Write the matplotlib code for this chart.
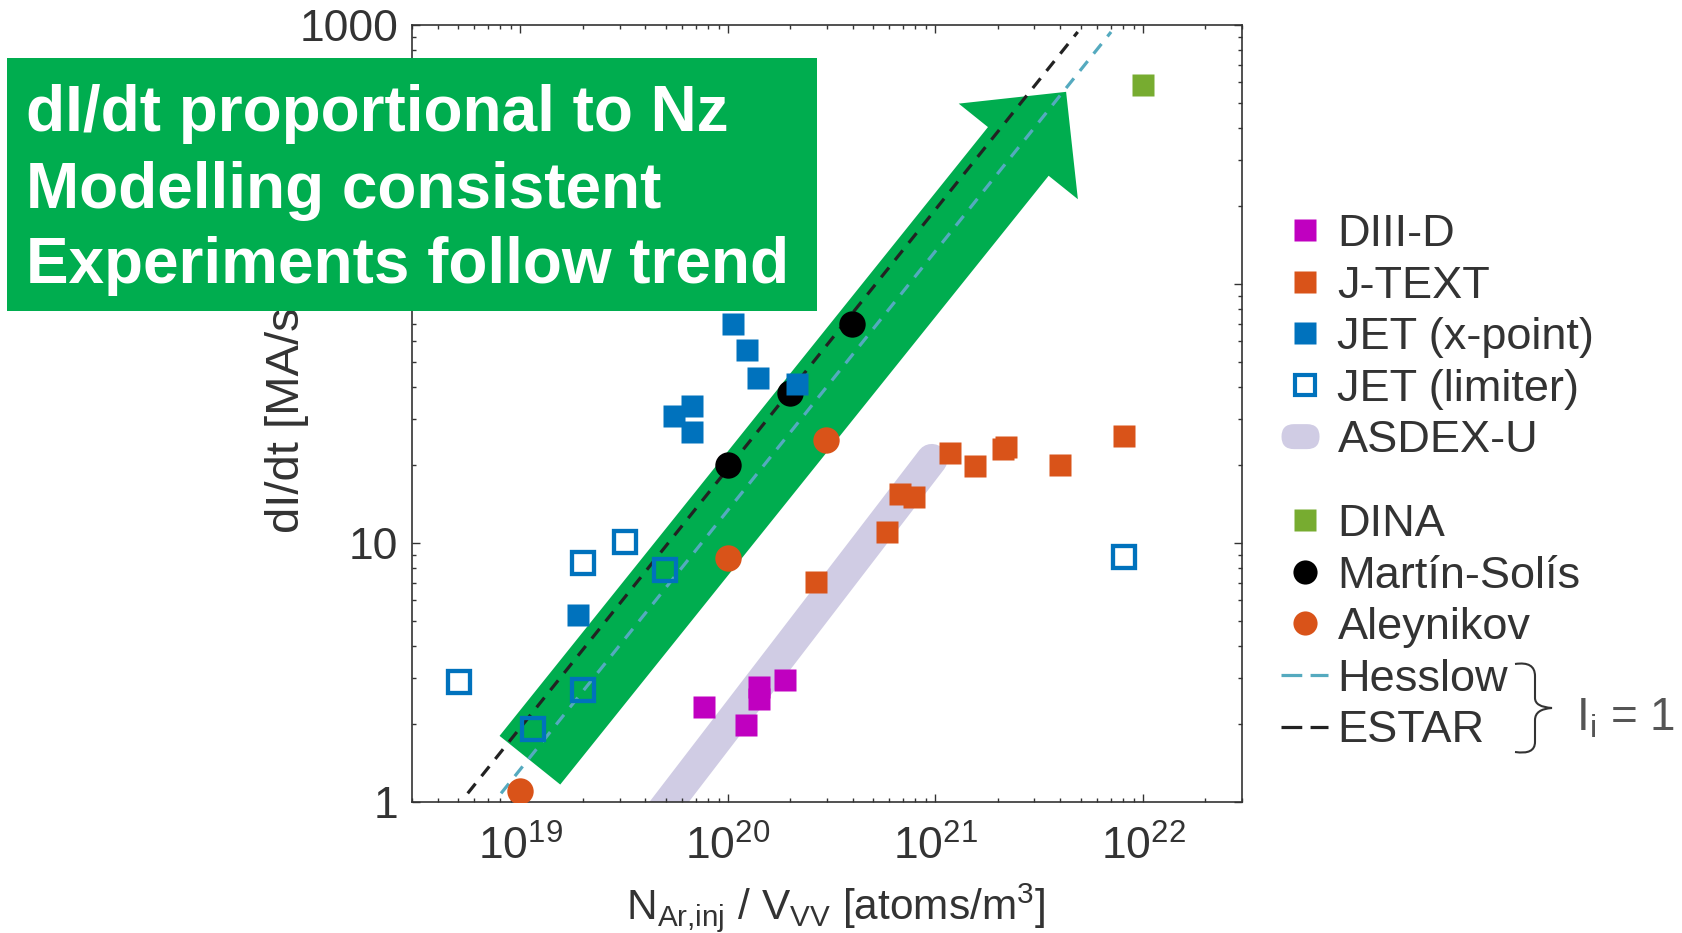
import numpy as np
import matplotlib
matplotlib.use("Agg")
import matplotlib.pyplot as plt
from matplotlib.lines import Line2D
from matplotlib.patches import Rectangle, FancyBboxPatch, PathPatch
from matplotlib.path import Path
from matplotlib.legend_handler import HandlerBase
from matplotlib.ticker import FuncFormatter, NullFormatter, LogLocator

W, H, DPI = 1683, 933, 100

plt.rcParams["font.family"] = ["Liberation Sans", "DejaVu Sans"]
plt.rcParams["mathtext.fontset"] = "custom"
plt.rcParams["mathtext.rm"] = "Liberation Sans"
plt.rcParams["mathtext.it"] = "Liberation Sans:italic"
plt.rcParams["mathtext.bf"] = "Liberation Sans:bold"

# ---- data: injected Ar density [atoms/m^3] vs current quench rate [MA/s] ----
diiid_n = [7.7e19, 1.22e20, 1.41e20, 1.41e20, 1.88e20]
diiid_rate = [2.32, 1.99, 2.50, 2.78, 2.95]

jtext_n = [2.65e20, 5.86e20, 6.76e20, 7.9e20, 1.18e21, 1.55e21, 2.11e21, 2.19e21, 3.96e21, 8.07e21]
jtext_rate = [7.1, 11.0, 15.4, 15.0, 22.2, 19.8, 23.0, 23.5, 20.0, 25.9]

jet_xp_n = [1.9e19, 5.52e19, 6.67e19, 6.67e19, 1.06e20, 1.24e20, 1.40e20, 2.15e20]
jet_xp_rate = [5.27, 30.9, 33.9, 26.9, 70.1, 55.4, 43.4, 41.0]

jet_lim_n = [5.06e18, 1.15e19, 2.0e19, 2.0e19, 3.2e19, 4.97e19, 8.07e21]
jet_lim_rate = [2.91, 1.91, 8.36, 2.70, 10.1, 7.9, 8.86]

asdex_n = [4.3e19, 9.6e20]
asdex_rate = [0.82, 21.0]

dina_n = [1.0e22]
dina_rate = [585.0]

martin_n = [1.0e20, 1.98e20, 3.96e20]
martin_rate = [20.0, 38.1, 70.2]

aleyn_n = [9.9e18, 1.0e20, 2.96e20]
aleyn_rate = [1.10, 8.75, 25.0]

# linear scalings (l_i = 1): dI/dt = coef * N
hesslow_coef = 1.34e-19
estar_coef = 1.94e-19
scaling_rate_range = [1.08, 940.0]

# trend arrow (tail -> tip) in data units
trend_tail = (1.11e19, 1.45)
trend_tip = (4.26e21, 552.0)

# ---- styling ----
C_MAG = "#C000C0"
C_ORG = "#D95319"
C_BLU = "#0072BD"
C_DINA = "#77AC30"
C_LAV = "#D0CCE4"
C_CYAN = "#55AABF"
C_DASHK = "#222222"
C_GREEN = "#00AD4F"
C_TXT = "#333333"

MS_SQ = 16.4
MS_CIR = 19.0
LEG_FS = 32.5


def fpx(x, y):
    """pixel position (from top-left) -> figure fraction"""
    return x / W, 1 - y / H


fig = plt.figure(figsize=(W / DPI, H / DPI), dpi=DPI)
fig.patch.set_facecolor("white")
ax = fig.add_axes([412 / W, 1 - 802 / H, 830 / W, 777 / H])
ax.set_xscale("log")
ax.set_yscale("log")
ax.set_xlim(3e18, 3e22)
ax.set_ylim(1, 1000)

# ASDEX-U band
ax.plot(asdex_n, asdex_rate, color=C_LAV, lw=22.5, solid_capstyle="round", zorder=1.5)

# trend arrow
ax.annotate(
    "", xy=trend_tip, xytext=trend_tail, xycoords="data", textcoords="data",
    arrowprops=dict(
        arrowstyle="simple,head_length=55,head_width=110,tail_width=56",
        mutation_scale=1, shrinkA=0, shrinkB=0, fc=C_GREEN, ec="none", lw=0,
    ),
    zorder=2,
)

# scaling lines
for coef, col in [(estar_coef, C_DASHK), (hesslow_coef, C_CYAN)]:
    rate = np.array(scaling_rate_range)
    ax.plot(rate / coef, rate, color=col, lw=2.3, dashes=(3.9, 3.0), zorder=3)

# measurements and simulations
ax.plot(diiid_n, diiid_rate, ls="none", marker="s", ms=MS_SQ, mfc=C_MAG, mec="none", zorder=4)
ax.plot(jtext_n, jtext_rate, ls="none", marker="s", ms=MS_SQ, mfc=C_ORG, mec="none", zorder=4)
ax.plot(martin_n, martin_rate, ls="none", marker="o", ms=MS_CIR, mfc="black", mec="none", zorder=4)
ax.plot(aleyn_n, aleyn_rate, ls="none", marker="o", ms=MS_CIR, mfc=C_ORG, mec="none", zorder=4)
ax.plot(jet_xp_n, jet_xp_rate, ls="none", marker="s", ms=MS_SQ, mfc=C_BLU, mec="none", zorder=5)
ax.plot(jet_lim_n, jet_lim_rate, ls="none", marker="s", ms=16.0, mfc="none", mec=C_BLU, mew=3.1, zorder=5)
ax.plot(dina_n, dina_rate, ls="none", marker="s", ms=MS_SQ, mfc=C_DINA, mec="none", zorder=5)

# axes styling
for sp in ax.spines.values():
    sp.set_color(C_TXT)
    sp.set_linewidth(1.2)
ax.xaxis.set_major_locator(LogLocator(base=10, numticks=10))
ax.xaxis.set_minor_locator(LogLocator(base=10, subs=np.arange(2, 10), numticks=20))
ax.yaxis.set_minor_locator(LogLocator(base=10, subs=np.arange(2, 10), numticks=20))
ax.yaxis.set_major_formatter(FuncFormatter(lambda v, p: f"{v:g}"))
ax.xaxis.set_minor_formatter(NullFormatter())
ax.yaxis.set_minor_formatter(NullFormatter())
ax.tick_params(which="both", direction="in", top=True, right=True, color=C_TXT,
               labelcolor=C_TXT, width=1.0)
ax.tick_params(which="major", length=5.8, labelsize=32)
ax.tick_params(axis="y", which="major", pad=10)
ax.tick_params(axis="x", which="major", pad=17)
ax.tick_params(which="minor", length=3.2)

ax.set_xlabel(r"N$_{\mathrm{Ar{,}inj}}$ / V$_{\mathrm{VV}}$ [atoms/m$^{3}$]", fontsize=30.5, color=C_TXT)
ax.xaxis.set_label_coords(0.51, -0.102)
ax.set_ylabel("dI/dt [MA/s]", fontsize=34, color=C_TXT)
ax.yaxis.set_label_coords(-0.124, 0.5)


# legend
class HandlerStadium(HandlerBase):
    def create_artists(self, legend, orig_handle, xdescent, ydescent, width, height, fontsize, trans):
        w, h = 27.4, 18.0
        x0 = -xdescent + (width - w) / 2 - 3
        y0 = -ydescent + (height - h) / 2
        p = FancyBboxPatch((x0, y0), w, h, boxstyle=f"round,pad=0,rounding_size={h / 2}",
                           fc=orig_handle.get_facecolor(), ec="none", transform=trans)
        return [p]


asdex_handle = Rectangle((0, 0), 1, 1, fc=C_LAV, ec="none")

exp_handles = [
    Line2D([], [], ls="none", marker="s", ms=MS_SQ, mfc=C_MAG, mec="none"),
    Line2D([], [], ls="none", marker="s", ms=MS_SQ, mfc=C_ORG, mec="none"),
    Line2D([], [], ls="none", marker="s", ms=MS_SQ, mfc=C_BLU, mec="none"),
    Line2D([], [], ls="none", marker="s", ms=14.0, mfc="none", mec=C_BLU, mew=3.0),
    asdex_handle,
]
exp_labels = ["DIII-D", "J-TEXT", "JET (x-point)", "JET (limiter)", "ASDEX-U"]

mod_handles = [
    Line2D([], [], ls="none", marker="s", ms=MS_SQ, mfc=C_DINA, mec="none"),
    Line2D([], [], ls="none", marker="o", ms=MS_SQ + 1, mfc="black", mec="none"),
    Line2D([], [], ls="none", marker="o", ms=MS_SQ + 1, mfc=C_ORG, mec="none"),
    Line2D([], [], color=C_CYAN, lw=2.3, dashes=(6.5, 2.6)),
    Line2D([], [], color=C_DASHK, lw=2.3, dashes=(6.5, 2.6)),
]
mod_labels = ["DINA", "Martín-Solís", "Aleynikov", "Hesslow", "ESTAR"]

leg_kw = dict(loc="upper left", bbox_transform=fig.transFigure, frameon=False,
              fontsize=LEG_FS, handlelength=1.05, handletextpad=0.2, labelspacing=0.235,
              borderpad=0, borderaxespad=0, labelcolor=C_TXT)
leg1 = ax.legend(exp_handles, exp_labels, bbox_to_anchor=fpx(1281, 214),
                 handler_map={Rectangle: HandlerStadium()}, **leg_kw)
ax.add_artist(leg1)
leg2 = ax.legend(mod_handles, mod_labels, bbox_to_anchor=fpx(1281, 504), **leg_kw)

# brace grouping the two scalings
bv = [(1515, 664), (1535, 661), (1535, 676), (1535, 698), (1535, 707), (1552, 708),
      (1535, 709), (1535, 720), (1535, 742), (1535, 755), (1515, 752)]
bc = [Path.MOVETO, Path.CURVE3, Path.CURVE3, Path.LINETO, Path.CURVE3, Path.CURVE3,
      Path.CURVE3, Path.CURVE3, Path.LINETO, Path.CURVE3, Path.CURVE3]
brace = PathPatch(Path([fpx(*v) for v in bv], bc), transform=fig.transFigure,
                  fc="none", ec=C_TXT, lw=1.5)
fig.add_artist(brace)
fig.text(*fpx(1576, 731), r"I$_{\mathrm{i}}$ = 1", fontsize=33, color="#555555", va="baseline")

# message box
box = Rectangle(fpx(7.5, 310.5), (817 - 7.5) / W, (310.5 - 58) / H, transform=fig.transFigure,
                fc=C_GREEN, ec="none", zorder=10)
fig.add_artist(box)
for txt, base in [("dI/dt proportional to Nz", 131),
                  ("Modelling consistent", 208),
                  ("Experiments follow trend", 283.5)]:
    fig.text(*fpx(26, base), txt, fontsize=46, fontweight="bold", color="white",
             va="baseline", ha="left", zorder=11)

fig.savefig("out.png", dpi=DPI)
